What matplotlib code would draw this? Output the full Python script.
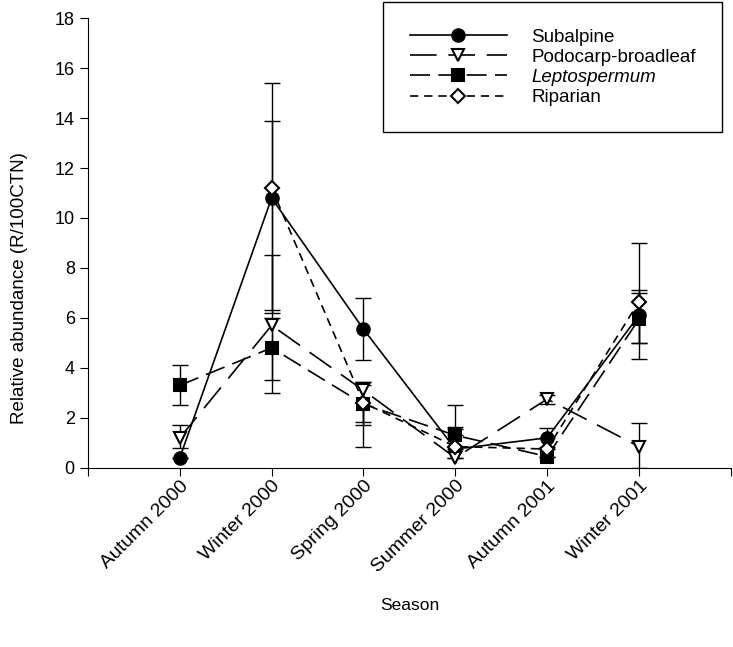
import numpy as np
import matplotlib
matplotlib.use("Agg")
import matplotlib.pyplot as plt

plt.rcParams['font.family'] = ['Liberation Sans', 'DejaVu Sans']

seasons = ["Autumn 2000", "Winter 2000", "Spring 2000", "Summer 2000", "Autumn 2001", "Winter 2001"]

subalpine = [0.4, 10.8, 5.55, 0.75, 1.2, 6.1]
subalpine_lo = [0, 4.5, 1.25, 0, 0, 1.1]
subalpine_hi = [0, 3.1, 1.25, 0.9, 0.4, 1.0]

podocarp = [1.2, 5.7, 3.1, 0.4, 2.75, 0.85]
podocarp_lo = [0.4, 2.7, 2.25, 0, 0.2, 0.85]
podocarp_hi = [0.5, 2.8, 0.35, 0, 0.15, 0.95]

lepto = [3.3, 4.8, 2.55, 1.3, 0.45, 5.95]
lepto_lo = [0.8, 1.3, 0.85, 0, 0, 0.95]
lepto_hi = [0.8, 1.2, 0.75, 1.2, 0, 1.05]

riparian = [np.nan, 11.2, 2.6, 0.85, 0.75, 6.65]
riparian_lo = [0, 5.0, 0.75, 0, 0, 2.3]
riparian_hi = [0, 4.2, 0.85, 0.7, 0.1, 2.35]

fig = plt.figure(figsize=(7.33, 6.47), dpi=100)
ax = fig.add_axes([0.120, 0.277, 0.877, 0.695])

x = np.arange(1, len(seasons) + 1)

series = [
    ("Subalpine", subalpine, subalpine_lo, subalpine_hi, 'o', 'black', (None, None)),
    ("Podocarp-broadleaf", podocarp, podocarp_lo, podocarp_hi, 'v', 'white', (16, 7)),
    ("Leptospermum", lepto, lepto_lo, lepto_hi, 's', 'black', (12, 5)),
    ("Riparian", riparian, riparian_lo, riparian_hi, 'D', 'white', (5, 3.5)),
]
msizes = {'o': 9, 'v': 9, 's': 8, 'D': 7.5}

for label, y, lo, hi, mk, fc, dash in series:
    y = np.array(y, dtype=float)
    lo = np.array(lo, dtype=float)
    hi = np.array(hi, dtype=float)
    ax.errorbar(x, y, yerr=[lo, hi], fmt='none', ecolor='black', elinewidth=1,
                capsize=6, capthick=1, zorder=2)
    if dash[0] is None:
        ax.plot(x, y, color='black', lw=1.2, marker=mk, ms=msizes[mk],
                mfc=fc, mec='black', mew=1.5, label=label, zorder=3)
    else:
        ax.plot(x, y, color='black', lw=1.2, dashes=dash, marker=mk, ms=msizes[mk],
                mfc=fc, mec='black', mew=1.5, label=label, zorder=3)

ax.set_xlim(0, 7)
ax.set_ylim(0, 18)
ax.set_xticks(np.arange(0, 8))
ax.set_xticklabels([""] + seasons + [""], rotation=45, ha='right', rotation_mode='anchor', fontsize=14)
ax.set_yticks(np.arange(0, 19, 2))
ax.tick_params(axis='y', labelsize=13, direction='out', length=6)
ax.tick_params(axis='x', direction='out', length=6, pad=1)
ax.spines['top'].set_visible(False)
ax.spines['right'].set_visible(False)

ax.set_ylabel("Relative abundance (R/100CTN)", fontsize=13.5)
ax.yaxis.set_label_coords(-0.093, 0.4)
ax.set_xlabel("Season", fontsize=12.5)
ax.xaxis.set_label_coords(0.5, -0.29)

leg = ax.legend(loc='upper right', bbox_to_anchor=(0.987, 1.035), fontsize=13.5,
                handlelength=5.2, labelspacing=0.16, fancybox=False,
                edgecolor='black', framealpha=1, borderpad=1.4, handletextpad=1.3,
                borderaxespad=0)
leg.get_frame().set_linewidth(1)
leg.get_texts()[2].set_fontstyle('italic')

fig.savefig("out.png", dpi=100)
